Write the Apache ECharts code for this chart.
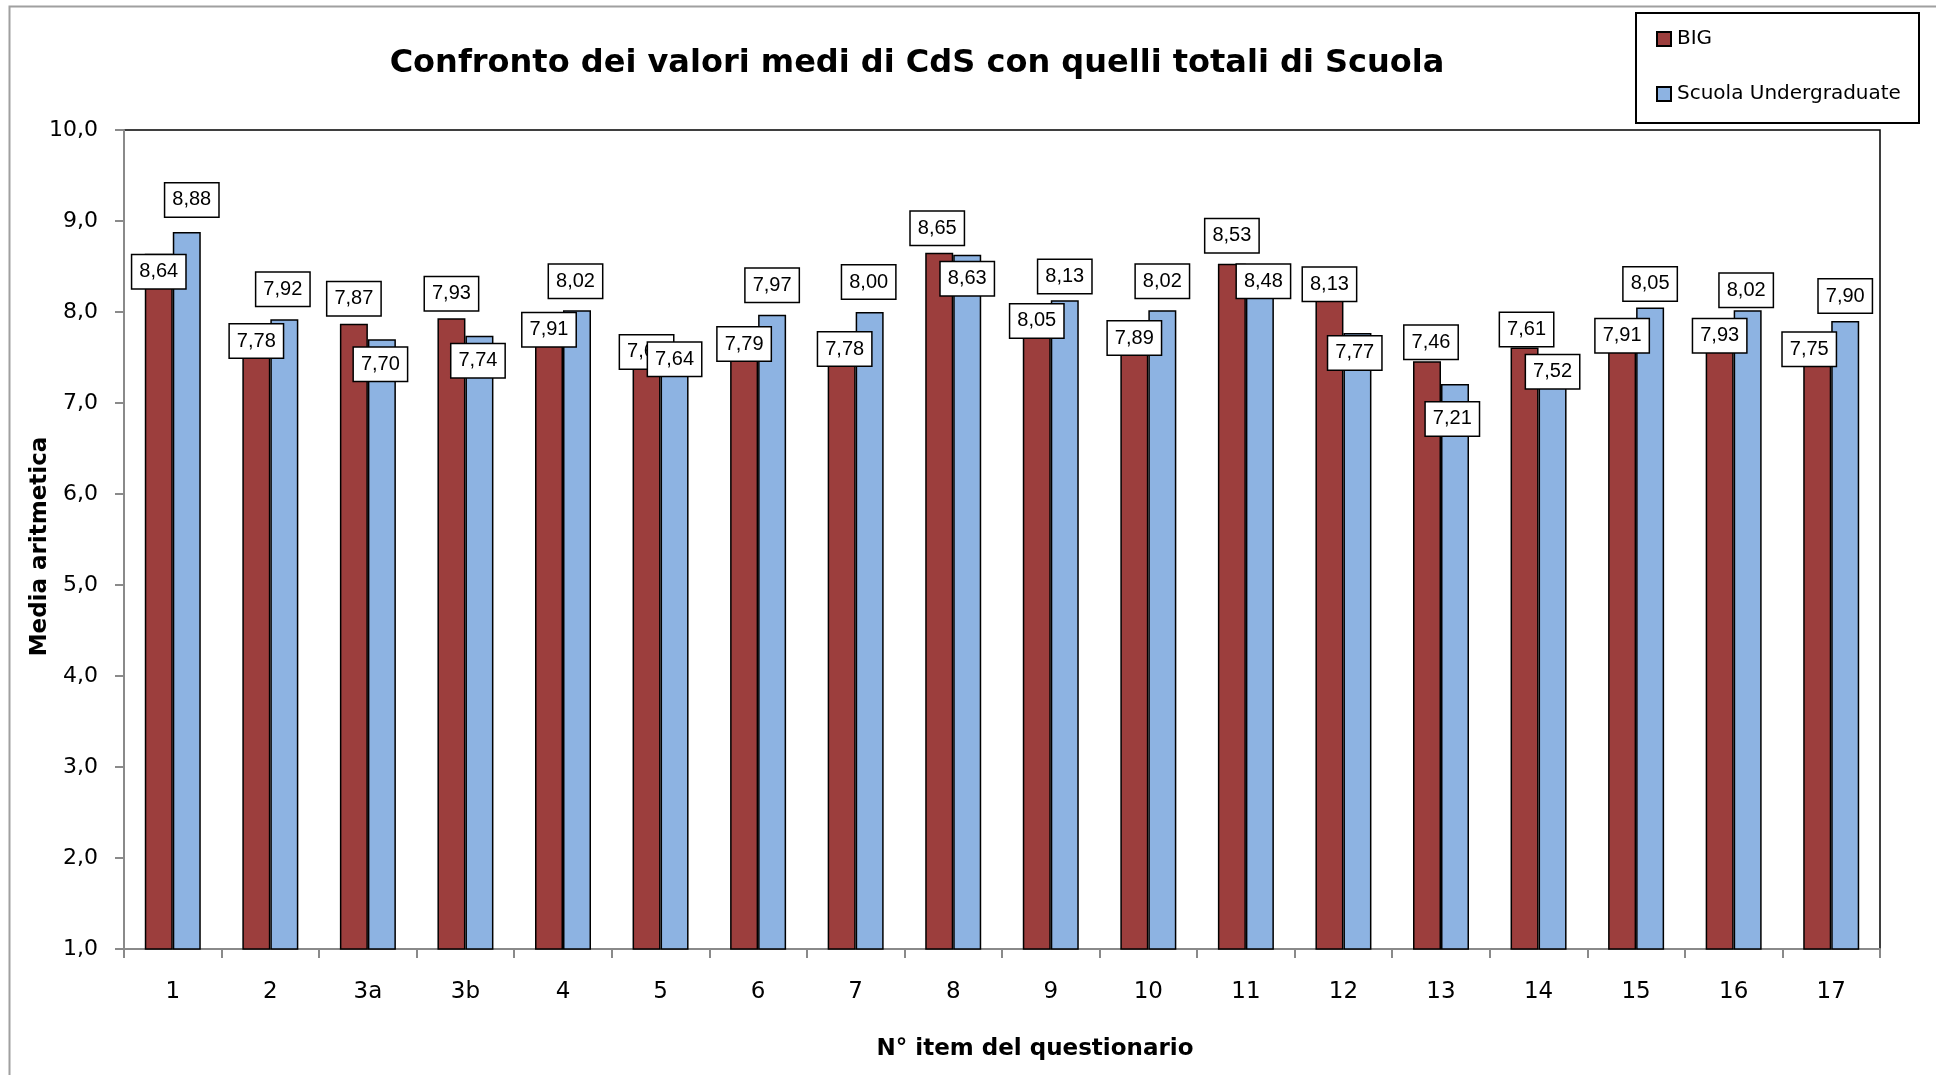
<!DOCTYPE html>
<html>
<head>
<meta charset="utf-8">
<script src="https://cdn.jsdelivr.net/npm/echarts@6/dist/echarts.min.js"></script>
<style>html,body{margin:0;padding:0;background:#fff}#c{width:1936px;height:1075px}</style>
</head>
<body>
<div id="c"></div>
<script>
// ---- data ----
const categories = ['1','2','3a','3b','4','5','6','7','8','9','10','11','12','13','14','15','16','17'];
const bigValues = [8.64,7.78,7.87,7.93,7.91,7.68,7.79,7.78,8.65,8.05,7.89,8.53,8.13,7.46,7.61,7.91,7.93,7.75];
const scuolaValues = [8.88,7.92,7.70,7.74,8.02,7.64,7.97,8.00,8.63,8.13,8.02,8.48,7.77,7.21,7.52,8.05,8.02,7.90];
const yTicks = [1,2,3,4,5,6,7,8,9,10];

// label placement (pixel shift of label centre relative to bar top / bar centre)
const bigLabelDy = [18,9,-25,-24.5,9.5,10.8,13,17,-24.5,13.5,16,-28,-16,-19,-18,15.6,17.4,14.6];
const bigLabelDx = [0,0,0,0,0,0,0,3,-2,0,0,0,0,4,2,0,0,-8];
const scuolaLabelDy = [-32,-30,25,25,-29,14.5,-29.5,-30,24,-23.6,-29,13,20,35,16,-23.5,-20,-25];
const scuolaLabelDx = [5,-1.5,-1.5,-1.5,-1.5,0,0,-1,0,0,0,3.5,-2.7,-2.7,0,0,-1.5,0];

const RED = '#9C3E3D', BLUE = '#8DB3E2';
const HALF_BOX = 16.5;
const COMIC = '"Comic Sans MS","DejaVu Sans",sans-serif';
const fmt2 = v => v.toFixed(2).replace('.', ',');

function buildData(vals, dys, dxs) {
  return vals.map((v, i) => ({
    value: v,
    label: { offset: [dxs[i], dys[i] + HALF_BOX] }
  }));
}
const labelStyle = {
  show: true,
  position: 'top',
  distance: 0,
  formatter: p => fmt2(p.value),
  fontFamily: '"Liberation Sans", Arial, sans-serif',
  fontSize: 20,
  lineHeight: 19,
  color: '#000',
  backgroundColor: '#fff',
  borderColor: '#000',
  borderWidth: 1.5,
  padding: [7, 7, 7, 7]
};

const chart = echarts.init(document.getElementById('c'), null, {renderer: 'canvas'});
chart.setOption({
  animation: false,
  backgroundColor: '#fff',
  title: {
    text: 'Confronto dei valori medi di CdS con quelli totali di Scuola',
    left: 912, top: 43, textAlign: 'center',
    textStyle: { fontFamily: COMIC, fontWeight: 'bold', fontSize: 32, color: '#000' }
  },
  legend: {
    orient: 'vertical',
    left: 1656, top: 29,
    padding: 0,
    itemWidth: 14, itemHeight: 14, itemGap: 35,
    icon: 'rect',
    textStyle: { fontFamily: COMIC, fontSize: 20, color: '#000', padding: [0,0,0,1] },
    data: ['BIG', 'Scuola Undergraduate']
  },
  grid: { left: 124, right: 56, top: 130, bottom: 126, show: true, borderColor: '#000', borderWidth: 1.5, backgroundColor: 'transparent', containLabel: false },
  xAxis: {
    type: 'category',
    data: categories,
    name: 'N° item del questionario',
    nameLocation: 'middle',
    nameMoveOverlap: false,
    nameGap: 89,
    nameTextStyle: { fontFamily: COMIC, fontWeight: 'bold', fontSize: 23, color: '#000', padding: [0,0,0,66] },
    axisLine: { lineStyle: { color: '#8a8a8a', width: 2 } },
    axisTick: { show: true, alignWithLabel: false, length: 9, lineStyle: { color: '#8a8a8a', width: 2 } },
    axisLabel: { margin: 32, fontFamily: COMIC, fontSize: 23, color: '#000' }
  },
  yAxis: {
    type: 'value',
    min: yTicks[0], max: yTicks[yTicks.length - 1], interval: 1,
    name: 'Media aritmetica',
    nameLocation: 'middle',
    nameMoveOverlap: false,
    nameGap: 72,
    nameRotate: 90,
    nameTextStyle: { fontFamily: COMIC, fontWeight: 'bold', fontSize: 23, color: '#000', padding: [0,14,0,0] },
    axisLine: { show: true, lineStyle: { color: '#8a8a8a', width: 2 } },
    axisTick: { show: true, length: 9, lineStyle: { color: '#8a8a8a', width: 2 } },
    splitLine: { show: false },
    axisLabel: { margin: 26, fontFamily: COMIC, fontSize: 22, color: '#000', formatter: v => v.toFixed(1).replace('.', ',') }
  },
  series: [
    {
      name: 'BIG', type: 'bar', barWidth: 28, barGap: '0%',
      itemStyle: { color: RED, borderColor: '#000', borderWidth: 1.5 },
      label: labelStyle,
      data: buildData(bigValues, bigLabelDy, bigLabelDx)
    },
    {
      name: 'Scuola Undergraduate', type: 'bar', barWidth: 28, barGap: '0%',
      itemStyle: { color: BLUE, borderColor: '#000', borderWidth: 1.5 },
      label: labelStyle,
      data: buildData(scuolaValues, scuolaLabelDy, scuolaLabelDx)
    }
  ],
  graphic: [
    { type: 'rect', left: 7, top: 4, silent: true, z: -10,
      shape: { x: 0, y: 0, width: 2000, height: 2000 },
      style: { fill: 'none', stroke: '#a0a0a0', lineWidth: 2 } },
    { type: 'rect', left: 1635, top: 12, silent: true, z: -5,
      shape: { x: 0, y: 0, width: 283, height: 110 },
      style: { fill: '#fff', stroke: '#000', lineWidth: 2 } }
  ]
});
</script>
</body>
</html>
